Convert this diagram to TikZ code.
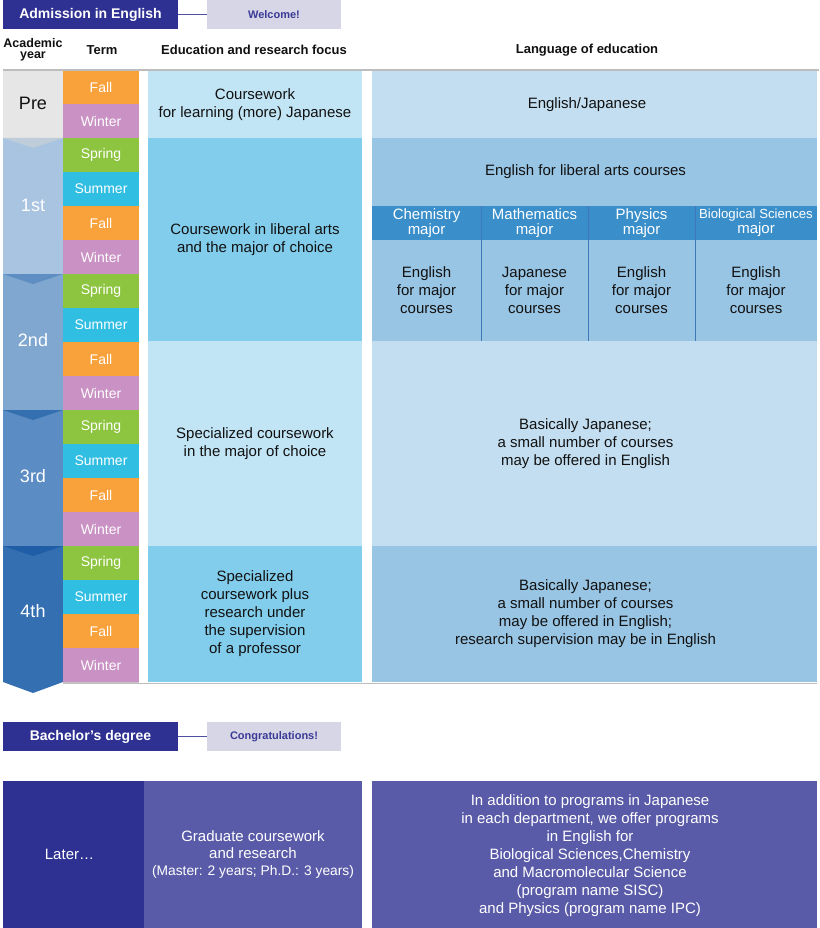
\documentclass[tikz,border=0pt]{standalone}
\usepackage{fontspec}
\setmainfont{Liberation Sans}
\newcommand\fsz[2]{\fontsize{#1}{#2}\selectfont}
\definecolor{navy}{HTML}{2E3192}
\definecolor{lav}{HTML}{D7D6E6}
\definecolor{welc}{HTML}{3A3A96}
\definecolor{fallc}{HTML}{F9A13A}
\definecolor{winterc}{HTML}{C991C4}
\definecolor{springc}{HTML}{8DC540}
\definecolor{summerc}{HTML}{30BEE3}
\definecolor{prec}{HTML}{E6E6E6}
\definecolor{yra}{HTML}{A8C4E1}
\definecolor{yrb}{HTML}{7FA7D0}
\definecolor{yrc}{HTML}{5B8CC3}
\definecolor{yrd}{HTML}{3470B1}
\definecolor{tria}{HTML}{BFCCDA}
\definecolor{trib}{HTML}{5F8EC3}
\definecolor{tric}{HTML}{3470B0}
\definecolor{trid}{HTML}{1F5DA6}
\definecolor{focL}{HTML}{C2E5F5}
\definecolor{focD}{HTML}{82CDEC}
\definecolor{lanL}{HTML}{C3DEF0}
\definecolor{lanD}{HTML}{99C5E4}
\definecolor{majH}{HTML}{3A8FCB}
\definecolor{divc}{HTML}{3F78B8}
\definecolor{botM}{HTML}{5A5BA8}
\definecolor{grayl}{HTML}{BDBDBD}
\definecolor{txt}{HTML}{111111}
\tikzset{
 cell/.style={inner sep=0pt, outer sep=0pt, anchor=north west, align=center, text=txt, font=\fsz{15}{18}},
 txtn/.style={inner sep=0pt, align=center, text=txt, font=\fsz{15}{18}},
 term/.style={cell, minimum width=76pt, text=white, font=\fsz{14}{16}},
 head/.style={inner sep=0pt, align=center, text=txt, font=\bfseries\fsz{13}{14}},
 yearlab/.style={inner sep=0pt, text=white, font=\fsz{18}{20}},
 tag/.style={cell, minimum height=29pt, fill=navy, text=white, minimum width=175pt, font=\bfseries\fsz{14}{16}},
 note/.style={cell, minimum height=29pt, fill=lav, text=welc, minimum width=134pt, font=\bfseries\fsz{11}{13}},
 major/.style={cell, fill=majH, text=white, minimum height=34pt, font=\fsz{15}{15.5}},
 mbody/.style={cell, fill=lanD, minimum height=101pt},
 link/.style={navy!85, line width=1pt},
 divider/.style={divc, line width=0.8pt},
 sepline/.style={black!22, line width=0.4pt}
}
\begin{document}
\begin{tikzpicture}[x=1pt,y=-1pt]
\useasboundingbox (0,0) rectangle (819,928);
\fill[white] (0,0) rectangle (819,928);

% top tags
\node[tag] (adm) at (3,0) {Admission in English};
\node[note] (wel) at (207,0) {Welcome!};
\draw[link] (adm.east) -- (wel.west);

% headers
\node[head, font=\bfseries\fsz{12.5}{11.5}] (hay) at (33,50) {Academic\\year};
\node[head] (hterm) at (102,50) {Term};
\node[head] (hfoc) at (254,50) {Education and research focus};
\node[head] (hlang) at (587,50) {Language of education};
\draw[grayl, line width=2pt] (3,70) -- (819,70);

% year column
\fill[yrd] (3,546) rectangle (63,682);
\fill[yrd] (3,682) -- (63,682) -- (33,693) -- cycle;
\fill[yrc] (3,410) rectangle (63,546);
\fill[yrb] (3,274) rectangle (63,410);
\fill[yra] (3,138) rectangle (63,274);
\fill[prec] (3,71) rectangle (63,138);
\fill[tria] (3,138) -- (63,138) -- (33,148) -- cycle;
\fill[trib] (3,274) -- (63,274) -- (33,284) -- cycle;
\fill[tric] (3,410) -- (63,410) -- (33,420) -- cycle;
\fill[trid] (3,546) -- (63,546) -- (33,556) -- cycle;
\node[yearlab, text=txt] (ypre) at (33,103) {Pre};
\node[yearlab] (y1) at (33,205) {1st};
\node[yearlab] (y2) at (33,340) {2nd};
\node[yearlab] (y3) at (33,476) {3rd};
\node[yearlab] (y4) at (33,611) {4th};

% terms
\foreach[count=\i] \t/\h/\c/\lab in {71/33.5/fallc/Fall,104.5/33.5/winterc/Winter,
  138/34/springc/Spring,172/34/summerc/Summer,206/34/fallc/Fall,240/34/winterc/Winter,
  274/34/springc/Spring,308/34/summerc/Summer,342/34/fallc/Fall,376/34/winterc/Winter,
  410/34/springc/Spring,444/34/summerc/Summer,478/34/fallc/Fall,512/34/winterc/Winter,
  546/34/springc/Spring,580/34/summerc/Summer,614/34/fallc/Fall,648/34/winterc/Winter}
{
  \node[term, fill=\c, minimum height=\h pt] (t\i) at (63,\t) {\lab};
  \draw[sepline] (t\i.south west) -- (t\i.south east);
}

% focus column
\node[cell, fill=focL, minimum width=214pt, minimum height=67pt] (fpre) at (148,71) {Coursework\\for learning (more) Japanese};
\node[cell, fill=focD, minimum width=214pt, minimum height=203pt] (fone) at (148,138) {Coursework in liberal arts\\and the major of choice};
\node[cell, fill=focL, minimum width=214pt, minimum height=205pt] (fthr) at (148,341) {Specialized coursework\\in the major of choice};
\node[cell, fill=focD, minimum width=214pt, minimum height=136pt] (ffou) at (148,546) {Specialized\\coursework plus\\research under\\the supervision\\of a professor};

% language column
\node[cell, fill=lanL, minimum width=445pt, minimum height=67pt] (lpre) at (372,71) {};
\node[txtn] (lpreT) at ([xshift=-7.5pt]lpre.center) {English/Japanese};
\node[cell, fill=lanD, minimum width=445pt, minimum height=68pt] (llib) at (372,138) {};
\node[txtn] (llibT) at ([xshift=-9pt]llib.center) {English for liberal arts courses};
\node[major, minimum width=109pt] (mch) at (372,206) {Chemistry\\major};
\node[major, minimum width=107pt] (mma) at (481,206) {Mathematics\\major};
\node[major, minimum width=107pt] (mph) at (588,206) {Physics\\major};
\node[major, minimum width=122pt, font=\fsz{13.2}{15.5}] (mbi) at (695,206) {Biological Sciences\\{\fsz{15}{15.5}major}};
\node[mbody, minimum width=109pt] (bch) at (372,240) {English\\for major\\courses};
\node[mbody, minimum width=107pt] (bma) at (481,240) {Japanese\\for major\\courses};
\node[mbody, minimum width=107pt] (bph) at (588,240) {English\\for major\\courses};
\node[mbody, minimum width=122pt] (bbi) at (695,240) {English\\for major\\courses};
\draw[divider] (mch.north east) -- (bch.south east);
\draw[divider] (mma.north east) -- (bma.south east);
\draw[divider] (mph.north east) -- (bph.south east);
\node[cell, fill=lanL, minimum width=445pt, minimum height=205pt] (lthr) at (372,341) {};
\node[txtn] (lthrT) at ([xshift=-9pt]lthr.center) {Basically Japanese;\\a small number of courses\\may be offered in English};
\node[cell, fill=lanD, minimum width=445pt, minimum height=136pt] (lfou) at (372,546) {};
\node[txtn] (lfouT) at ([xshift=-9pt]lfou.center) {Basically Japanese;\\a small number of courses\\may be offered in English;\\research supervision may be in English};
\draw[grayl, line width=1pt] (63,683) -- (817,683);

% bachelor
\node[tag] (bach) at (3,722) {Bachelor's degree};
\node[note] (cong) at (207,722) {Congratulations!};
\draw[link] (bach.east) -- (cong.west);

% later
\node[cell, fill=navy, minimum width=141pt, minimum height=147pt] (later) at (3,781) {};
\node[txtn, text=white] (laterT) at ([xshift=-4pt]later.center) {Later…};
\node[cell, fill=botM, text=white, minimum width=218pt, minimum height=147pt, font=\fsz{15}{17}] (grad) at (144,781) {Graduate coursework\\and research\\{\fsz{13.8}{17}(Master: 2 years; Ph.D.: 3 years)}};
\node[cell, fill=botM, minimum width=445pt, minimum height=147pt] (prog) at (372,781) {};
\node[txtn, text=white] (progT) at ([xshift=-4.5pt, yshift=-1.5pt]prog.center) {In addition to programs in Japanese\\in each department, we offer programs\\in English for\\Biological Sciences,Chemistry\\and Macromolecular Science\\(program name SISC)\\and Physics (program name IPC)};
\end{tikzpicture}
\end{document}
